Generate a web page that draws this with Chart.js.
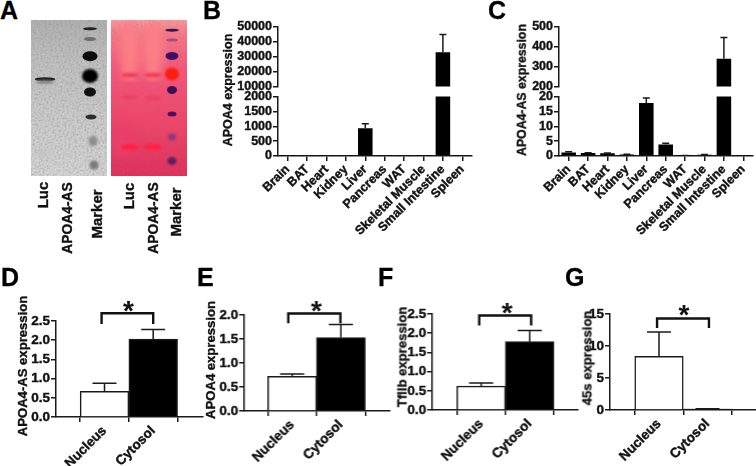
<!DOCTYPE html>
<html>
<head>
<meta charset="utf-8">
<script src="https://cdn.jsdelivr.net/npm/chart.js@4"></script>
<style>
html,body{margin:0;padding:0;background:#fff;width:756px;height:466px;overflow:hidden;}
#stage{position:relative;width:756px;height:466px;overflow:hidden;font-family:"Liberation Sans",Arial,sans-serif;font-weight:bold;color:#111;}
canvas{position:absolute;}
.t{position:absolute;white-space:nowrap;transform:translate(-50%,-50%) rotate(-90deg);line-height:1;-webkit-text-stroke:0.35px #111;}
.l{position:absolute;line-height:1;font-size:25px;color:#000;-webkit-text-stroke:0.3px #000;}
.gel{position:absolute;overflow:hidden;}
.b{position:absolute;border-radius:50%;transform:translate(-50%,-50%);}
.gel svg{position:absolute;left:0;top:0;width:100%;height:100%;}
</style>
</head>
<body>
<div id="stage"></div>
<script>
// ---- data ----
const tissues = ['Brain','BAT','Heart','Kidney','Liver','Pancreas','WAT','Skeletal Muscle','Small Intestine','Spleen'];
const apoa4Tissue = [5,5,10,10,930,5,5,5,33000,5];
const apoa4TissueTop = [6,6,12,12,1080,6,6,6,45000,6];
const apoa4asTissue = [1.2,1.0,0.9,0.5,17.8,3.9,0.1,0.4,340,0.05];
const apoa4asTissueTop = [1.4,1.1,1.0,0.6,19.5,4.3,0.15,0.5,447,0.08];
const fractions = ['Nucleus','Cytosol'];
const panelDValues = [0.67,2.03];
const panelDTops = [0.88,2.28];
const panelEValues = [0.72,1.53];
const panelETops = [0.77,1.80];
const panelFValues = [0.62,1.78];
const panelFTops = [0.70,2.07];
const panelGValues = [8.4,0.15];
const panelGTops = [12.2,0.2];

const INK = '#1a1a1a';
const stage = document.getElementById('stage');
Chart.defaults.font.family = '"Liberation Sans",Arial,sans-serif';
Chart.defaults.font.weight = 'bold';
Chart.defaults.color = '#111';

const errorBars = {
  id:'errorBars',
  afterDatasetsDraw(chart,args,o){
    const y=chart.scales.y,a=chart.chartArea,c=chart.ctx;
    const meta=chart.getDatasetMeta(0);
    c.save();
    c.beginPath();c.rect(a.left-2,a.top-1,a.width+4,a.height+1);c.clip();
    c.strokeStyle=INK;c.lineWidth=1.5;
    o.tops.forEach((top,i)=>{
      const px=meta.data[i].x, y0=y.getPixelForValue(o.values[i]), y1=y.getPixelForValue(top);
      c.beginPath();c.moveTo(px,y0);c.lineTo(px,y1);
      c.moveTo(px-o.cap,y1);c.lineTo(px+o.cap,y1);c.stroke();
    });
    c.restore();
  }
};
const bracket = {
  id:'bracket',
  afterDraw(chart,args,o){
    if(!o.span) return;
    const x=chart.scales.x,y=chart.scales.y,c=chart.ctx;
    const x0=x.getPixelForValue(o.span[0]),x1=x.getPixelForValue(o.span[1]);
    const yt=y.getPixelForValue(o.level[0]),yb=y.getPixelForValue(o.level[1]);
    c.save();c.strokeStyle='#111';c.lineWidth=2.4;c.lineJoin='miter';
    c.beginPath();c.moveTo(x0,yb);c.lineTo(x0,yt);c.lineTo(x1,yt);c.lineTo(x1,yb);c.stroke();
    c.fillStyle='#111';c.font='bold 28px "Liberation Sans"';c.textAlign='center';c.textBaseline='alphabetic';
    c.fillText('*',(x0+x1)/2+o.starDx,yt+o.starDy);
    c.restore();
  }
};

function mount(box,pad,config){
  const cv=document.createElement('canvas');
  const W=box.r-box.l+pad.l+pad.r, H=box.b-box.t+pad.t+pad.b;
  cv.width=W;cv.height=H;
  cv.style.left=(box.l-pad.l)+'px';cv.style.top=(box.t-pad.t)+'px';
  cv.style.width=W+'px';cv.style.height=H+'px';
  stage.appendChild(cv);
  config.options=Object.assign({responsive:false,animation:false,devicePixelRatio:1,
    events:[],
    layout:{autoPadding:false,padding:{top:pad.t,right:pad.r,bottom:config.noX?pad.b:0,left:0}}},config.options);
  delete config.noX;
  return new Chart(cv,config);
}
const yScale=(padL,min,max,step,fs,fmt)=>({
  min,max,
  border:{color:INK,width:1.5},
  grid:{drawOnChartArea:false,drawTicks:true,tickLength:5,color:INK,lineWidth:1.5},
  ticks:{stepSize:step,autoSkip:false,padding:1,color:'#111',textStrokeColor:'#111',textStrokeWidth:0.4,font:{size:fs,weight:'bold'},callback:fmt},
  afterFit(s){s.width=padL;}
});

function tissuePanel(L,R,labels,values,tops,upper,lower,lowerY,upperY,fs){
  const padL=48;
  const bar=(vals)=>({labels,datasets:[{data:vals,backgroundColor:'#000',borderWidth:0,barPercentage:0.75,categoryPercentage:1}]});
  // upper segment of the broken axis
  mount({l:L,r:R,t:upperY[0],b:upperY[1]},{l:padL,r:4,t:20,b:8},{type:'bar',noX:true,data:bar(values),plugins:[errorBars],
    options:{plugins:{legend:{display:false},tooltip:{enabled:false},errorBars:{values,tops,cap:3.5}},
      scales:{x:{display:false,offset:true},y:yScale(padL,upper[0],upper[1],upper[2],fs,v=>String(v))}}});
  // lower segment
  mount({l:L,r:R,t:lowerY[0],b:lowerY[1]},{l:padL,r:4,t:8,b:85},{type:'bar',data:bar(values),plugins:[errorBars],
    options:{plugins:{legend:{display:false},tooltip:{enabled:false},errorBars:{values,tops,cap:3.5}},
      scales:{
        x:{offset:true,border:{color:INK,width:1.5},
           grid:{drawOnChartArea:false,drawTicks:true,tickLength:5,color:INK,lineWidth:1.5,offset:false},
           ticks:{autoSkip:false,minRotation:45,maxRotation:45,padding:1,color:'#111',textStrokeColor:'#111',textStrokeWidth:0.4,font:{size:fs,weight:'bold'}},
           afterFit(s){s.height=85;}},
        y:yScale(padL,lower[0],lower[1],lower[2],fs,v=>String(v))}}});
}

function fractionPanel(p){
  const padL=50,padT=36,padB=60,fs=13.5;
  const xMin=1-(p.c1-p.L)/p.step, xMax=xMin+(p.R-p.L)/p.step;
  const padR=p.R>=756?0:4;
  const pts=p.values.map((v,i)=>({x:i+1,y:v}));
  mount({l:p.L,r:p.R,t:p.T,b:p.B},{l:padL,r:padR,t:padT,b:padB},{type:'bar',
    data:{datasets:[{data:pts,backgroundColor:['#fff','#000'],borderColor:INK,borderWidth:1.5,
      barThickness:p.step}]},
    plugins:[errorBars,bracket],
    options:{plugins:{legend:{display:false},tooltip:{enabled:false},
        errorBars:{values:p.values,tops:p.tops,cap:12},
        bracket:{span:p.span,level:p.level,starDx:p.starDx,starDy:p.starDy}},
      scales:{
        x:{type:'linear',min:xMin,max:xMax,offset:false,
          border:{color:INK,width:1.5},
          grid:{drawOnChartArea:false,drawTicks:true,tickLength:5,color:INK,lineWidth:1.5},
          afterBuildTicks(s){s.ticks=fractions.map((_,i)=>({value:i+1}));},
          ticks:{autoSkip:false,minRotation:45,maxRotation:45,padding:1,color:'#111',textStrokeColor:'#111',textStrokeWidth:0.4,font:{size:fs,weight:'bold'},
            callback:(v)=>fractions[v-1]},
          afterFit(s){s.height=padB;}},
        y:yScale(padL,0,p.max,p.tick,fs,p.fmt)}}});
}

tissuePanel(278.3,472.4,tissues,apoa4Tissue,apoa4TissueTop,[10000,50000,10000],[0,2000,500],[96,156],[27,87],12.5);
tissuePanel(559,753,tissues,apoa4asTissue,apoa4asTissueTop,[200,500,100],[0,20,5],[96,156],[27,87],12.5);

const f1=v=>v.toFixed(1), f0=v=>String(v);
fractionPanel({L:56,R:203,T:321,B:417.3,c1:104.5,step:48.7,values:panelDValues,tops:panelDTops,max:2.5,tick:0.5,fmt:f1,
  span:[0.94,2],level:[2.7,2.42],starDx:1,starDy:7});
fractionPanel({L:244.3,R:390,T:315,B:411.3,c1:292.2,step:48.7,values:panelEValues,tops:panelETops,max:2,tick:0.5,fmt:f1,
  span:[0.92,1.99],level:[2.03,1.83],starDx:2,starDy:6});
fractionPanel({L:432.3,R:578,T:313.7,B:410,c1:481.2,step:48.5,values:panelFValues,tops:panelFTops,max:2.5,tick:0.5,fmt:f1,
  span:[0.96,2.03],level:[2.46,2.2],starDx:2,starDy:6.5});
fractionPanel({L:610,R:756,T:313.7,B:410,c1:659,step:48.5,values:panelGValues,tops:panelGTops,max:15,tick:5,fmt:f0,
  span:[0.96,2.03],level:[14.3,12.8],starDx:1,starDy:6});

// ---- text labels ----
function rot(text,x,y,size){const d=document.createElement('div');d.className='t';d.textContent=text;
  d.style.left=x+'px';d.style.top=y+'px';d.style.fontSize=size+'px';stage.appendChild(d);}
function letter(text,x,y){const d=document.createElement('div');d.className='l';d.textContent=text;
  d.style.left=x+'px';d.style.top=y+'px';stage.appendChild(d);}
rot('APOA4 expression',228,90,12.5);
rot('APOA4-AS expression',522,90,12.3);
rot('APOA4-AS expression',23,365.5,13.1);
rot('APOA4 expression',211,359.5,13.1);
rot('Tfllb expression',402,357,13.1);
rot('45s expression',587,358,13.1);
rot('Luc',42,195,15);rot('APOA4-AS',68,217.5,13.8);rot('Marker',96,214,15);
rot('Luc',128,196,15);rot('APOA4-AS',154,217.5,13.8);rot('Marker',175,212,15);
letter('A',0,-2);letter('B',203,-2);letter('C',488,-2);
letter('D',1,265);letter('E',197,265);letter('F',378,265);letter('G',565,265);

// ---- gel photographs (decoration, not chart data) ----
function gel(x,y,w,h,bg,noise,bands){
  const g=document.createElement('div');g.className='gel';
  g.style.cssText+=`left:${x}px;top:${y}px;width:${w}px;height:${h}px;background:${bg};`;
  g.insertAdjacentHTML('beforeend',`<svg xmlns="http://www.w3.org/2000/svg"><filter id="n${x}"><feTurbulence type="fractalNoise" baseFrequency="0.5" numOctaves="2" seed="4"/><feColorMatrix values="0 0 0 0 ${noise[0]} 0 0 0 0 ${noise[1]} 0 0 0 0 ${noise[2]} 0 0 0 2.4 -0.95"/></filter><rect width="100%" height="100%" filter="url(#n${x})" opacity="${noise[3]}"/></svg>`);
  bands.forEach(b=>{const d=document.createElement('div');d.className='b';
    d.style.cssText+=`left:${b[0]-x}px;top:${b[1]-y}px;width:${b[2]}px;height:${b[3]}px;background:${b[4]};filter:blur(${b[5]}px);`;
    g.appendChild(d);});
  stage.appendChild(g);
}
gel(31,20,76,156,'linear-gradient(180deg,#b0b0b0 0%,#c0c0c0 25%,#cbcbcb 60%,#d6d6d6 100%)',[0.3,0.3,0.3,0.55],[
  [45,79,20,3.5,'#1c1c1c',0.5],[45,82,18,4,'#888',1],
  [90,28.7,14,3.5,'#222',0.5],[90,39.3,12,4,'#6e6e6e',0.7],[90,56,15,9.5,'#0c0c0c',0.7],[90,75.7,16,14,'#000',0.8],
  [90,91.7,12,9,'#111',0.7],[91,116.7,11,5,'#2c2c2c',0.6],[93,141,9,10,'#8a8a8a',1.4],[94,165,9,9,'#7c7c7c',1.3],
  [43,153,14,7,'#c4c4c4',2],[68,152,14,5,'#c8c8c8',2],[70,84,5,2,'#b0b0b0',1]]);
gel(111,20,76,156,'linear-gradient(180deg,#f79e9c 0%,#f67c86 8%,#f4587a 30%,#ee4668 65%,#dd2f58 100%)',[0.55,0.1,0.25,0.3],[
  [130,52,20,62,'#fb7e86',4],[153,52,20,62,'#fb7e86',4],
  [122,138,26,36,'#e84068',5],
  [130,75,18,4,'#f03a52',1],[153,75,18,4,'#f03a52',1],[130,83.5,15,4,'#f0506a',1],[153,83.5,15,3.5,'#f0506a',1],
  [130,97,17,4,'#ea4060',1],[153,98,15,4,'#ea4060',1],[153,104,8,3,'#ec5070',1],
  [130,147,19,6,'#ff2244',1.2],[153,147,19,6,'#ff2244',1.2],
  [172,30,13,2.6,'#2e1650',0.4],[172,40,12,2.8,'#a84888',0.6],[172,56,13,8,'#3a1068',0.7],[172,74,14,13,'#ff1c10',1],
  [172,90,10,8,'#3a1058',0.7],[172,113.7,9,5,'#4a1060',0.6],[172,137,8,7,'#8a3a80',1],[172,161,9,8,'#5a2060',1]]);
</script>
</body>
</html>
